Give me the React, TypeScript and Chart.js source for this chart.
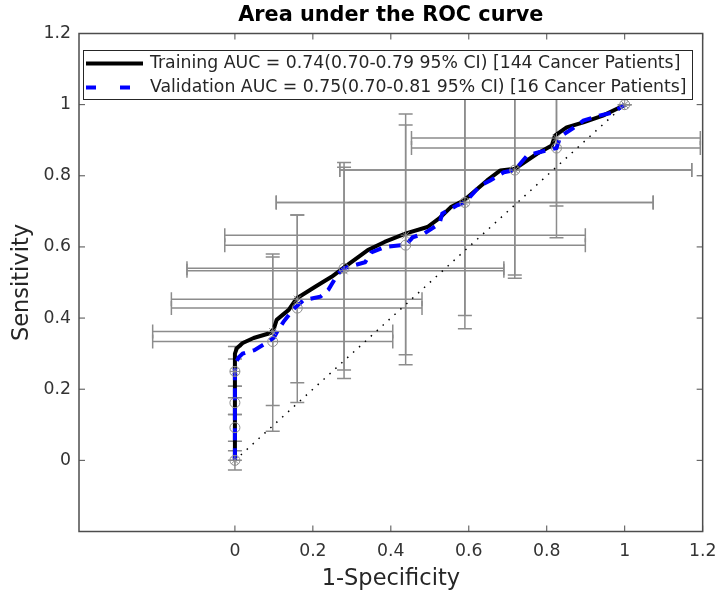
import React, { useEffect, useRef } from 'react';
import { Chart, registerables } from 'chart.js';

Chart.register(...registerables);

// ---- Axis ticks ----
const xTicks = [0, 0.2, 0.4, 0.6, 0.8, 1, 1.2];
const yTicks = [0, 0.2, 0.4, 0.6, 0.8, 1, 1.2];

// ---- ROC curves ----
const trainFPR = [0, 0, 0.005, 0.02, 0.048, 0.091, 0.1, 0.107, 0.138, 0.158, 0.206, 0.248, 0.282, 0.341, 0.384, 0.439, 0.494, 0.524, 0.554, 0.588, 0.647, 0.681, 0.719, 0.775, 0.813, 0.821, 0.851, 0.894, 0.944, 0.987, 1];
const trainTPR = [0, 0.3, 0.315, 0.33, 0.344, 0.358, 0.37, 0.395, 0.423, 0.455, 0.488, 0.516, 0.544, 0.591, 0.614, 0.638, 0.656, 0.68, 0.712, 0.731, 0.787, 0.815, 0.82, 0.862, 0.885, 0.913, 0.936, 0.95, 0.969, 0.992, 1];

const validFPR = [0, 0, 0.01, 0.02, 0.05, 0.08, 0.1, 0.11, 0.125, 0.15, 0.176, 0.219, 0.24, 0.265, 0.28, 0.295, 0.334, 0.35, 0.385, 0.425, 0.438, 0.456, 0.486, 0.525, 0.532, 0.57, 0.59, 0.63, 0.655, 0.69, 0.718, 0.75, 0.78, 0.825, 0.835, 0.869, 0.894, 0.935, 0.97, 1];
const validTPR = [0, 0.27, 0.29, 0.3, 0.31, 0.33, 0.345, 0.365, 0.39, 0.425, 0.45, 0.46, 0.48, 0.525, 0.54, 0.545, 0.557, 0.585, 0.6, 0.605, 0.605, 0.627, 0.638, 0.666, 0.694, 0.717, 0.725, 0.773, 0.787, 0.81, 0.816, 0.857, 0.866, 0.878, 0.91, 0.935, 0.955, 0.969, 0.978, 1];

// chance line
const diagX = [0, 1];
const diagY = [0, 1];

// ---- Operating points with 95% CI error bars ----
const trainPtX = [0, 0, 0.097, 0.16, 0.28, 0.438, 0.59, 0.718, 0.825, 1];
const trainPtY = [0, 0.25, 0.362, 0.453, 0.533, 0.633, 0.725, 0.816, 0.906, 1];
const trainXLo = [0, 0, -0.211, -0.163, -0.123, -0.026, 0.106, 0.269, 0.453, 1];
const trainXHi = [0, 0, 0.405, 0.48, 0.69, 0.899, 1.073, 1.172, 1.194, 1];
const trainYLo = [0, 0.208, 0.154, 0.218, 0.23, 0.297, 0.407, 0.521, 0.715, 1];
const trainYHi = [0, 0.285, 0.572, 0.69, 0.837, 0.974, 1.043, 1.11, 1.097, 1];

const validPtX = [0, 0, 0, 0, 0.097, 0.16, 0.28, 0.438, 0.59, 0.718, 0.825, 1];
const validPtY = [0, 0.092, 0.162, 0.25, 0.334, 0.428, 0.54, 0.605, 0.725, 0.816, 0.878, 1];
const validXLo = [0, 0, 0, 0, -0.211, -0.163, -0.123, -0.026, 0.106, 0.269, 0.453, 1];
const validXHi = [0, 0, 0, 0, 0.405, 0.48, 0.69, 0.899, 1.073, 1.172, 1.194, 1];
const validYLo = [-0.027, 0.054, 0.129, 0.176, 0.082, 0.163, 0.254, 0.269, 0.37, 0.512, 0.626, 1];
const validYHi = [0.027, 0.129, 0.208, 0.32, 0.58, 0.69, 0.824, 0.943, 1.08, 1.12, 1.13, 1];

const legendLabels = [
  'Training AUC = 0.74(0.70-0.79 95% CI) [144 Cancer Patients]',
  'Validation AUC = 0.75(0.70-0.81 95% CI) [16 Cancer Patients]',
];

const FONT = '"DejaVu Sans", "Liberation Sans", sans-serif';
const ERR_COLOR = '#8c8c8c';
const AXIS_COLOR = '#4d4d4d';

const toPts = (xs: number[], ys: number[]) => xs.map((x, i) => ({ x, y: ys[i] }));

const errorSets = [
  { x: trainPtX, y: trainPtY, xlo: trainXLo, xhi: trainXHi, ylo: trainYLo, yhi: trainYHi },
  { x: validPtX, y: validPtY, xlo: validXLo, xhi: validXHi, ylo: validYLo, yhi: validYHi },
];

const errorBarPlugin = {
  id: 'errorBars',
  beforeDatasetsDraw(chart: any) {
    const { ctx, chartArea, scales } = chart;
    const sx = scales.x;
    const sy = scales.y;
    const cap = 7;
    ctx.save();
    ctx.beginPath();
    ctx.rect(chartArea.left, chartArea.top, chartArea.right - chartArea.left, chartArea.bottom - chartArea.top);
    ctx.clip();
    ctx.strokeStyle = ERR_COLOR;
    ctx.lineWidth = 1.5;
    errorSets.forEach((s) => {
      s.x.forEach((xv, i) => {
        const px = sx.getPixelForValue(xv);
        const py = sy.getPixelForValue(s.y[i]);
        const pyLo = sy.getPixelForValue(s.ylo[i]);
        const pyHi = sy.getPixelForValue(s.yhi[i]);
        const pxLo = sx.getPixelForValue(s.xlo[i]);
        const pxHi = sx.getPixelForValue(s.xhi[i]);
        ctx.beginPath();
        ctx.moveTo(px, pyLo);
        ctx.lineTo(px, pyHi);
        ctx.moveTo(px - cap, pyLo);
        ctx.lineTo(px + cap, pyLo);
        ctx.moveTo(px - cap, pyHi);
        ctx.lineTo(px + cap, pyHi);
        if (Math.abs(pxHi - pxLo) > 0.5) {
          ctx.moveTo(pxLo, py);
          ctx.lineTo(pxHi, py);
          ctx.moveTo(pxLo, py - cap);
          ctx.lineTo(pxLo, py + cap);
          ctx.moveTo(pxHi, py - cap);
          ctx.lineTo(pxHi, py + cap);
        }
        ctx.stroke();
      });
    });
    ctx.restore();
  },
};

const boxPlugin = {
  id: 'matlabBox',
  afterDatasetsDraw(chart: any) {
    const { ctx, chartArea, scales } = chart;
    const { left, right, top, bottom } = chartArea;
    const tl = 6;
    ctx.save();
    ctx.strokeStyle = AXIS_COLOR;
    ctx.lineWidth = 1.5;
    ctx.strokeRect(left, top, right - left, bottom - top);
    ctx.lineWidth = 1;
    ctx.beginPath();
    scales.x.ticks.forEach((t: any) => {
      const px = scales.x.getPixelForValue(t.value);
      ctx.moveTo(px, bottom);
      ctx.lineTo(px, bottom - tl);
      ctx.moveTo(px, top);
      ctx.lineTo(px, top + tl);
    });
    scales.y.ticks.forEach((t: any) => {
      const py = scales.y.getPixelForValue(t.value);
      ctx.moveTo(left, py);
      ctx.lineTo(left + tl, py);
      ctx.moveTo(right, py);
      ctx.lineTo(right - tl, py);
    });
    ctx.stroke();
    ctx.restore();
  },
};

const legendPlugin = {
  id: 'rocLegend',
  afterDraw(chart: any) {
    const { ctx, chartArea } = chart;
    const bx = chartArea.left + 4;
    const by = chartArea.top + 16.5;
    const bw = 609;
    const bh = 49;
    ctx.save();
    ctx.fillStyle = '#ffffff';
    ctx.fillRect(bx, by, bw, bh);
    ctx.strokeStyle = '#262626';
    ctx.lineWidth = 1;
    ctx.strokeRect(bx + 0.5, by + 0.5, bw, bh);
    const rows = [by + 13.5, by + 37.5];
    ctx.lineWidth = 4;
    ctx.strokeStyle = '#000000';
    ctx.setLineDash([]);
    ctx.beginPath();
    ctx.moveTo(bx + 3, rows[0]);
    ctx.lineTo(bx + 60, rows[0]);
    ctx.stroke();
    ctx.strokeStyle = '#0000ff';
    ctx.setLineDash([10, 24]);
    ctx.beginPath();
    ctx.moveTo(bx + 3, rows[1]);
    ctx.lineTo(bx + 60, rows[1]);
    ctx.stroke();
    ctx.setLineDash([]);
    ctx.fillStyle = '#262626';
    ctx.font = `17.3px ${FONT}`;
    ctx.textBaseline = 'middle';
    ctx.textAlign = 'left';
    legendLabels.forEach((t, i) => ctx.fillText(t, bx + 67, rows[i]));
    ctx.restore();
  },
};

export default function App() {
  const ref = useRef<HTMLCanvasElement | null>(null);

  useEffect(() => {
    if (!ref.current) return;
    const chart = new Chart(ref.current, {
      type: 'scatter',
      data: {
        datasets: [
          {
            label: 'Training points',
            data: toPts(trainPtX, trainPtY),
            pointStyle: 'star',
            pointRadius: 5,
            borderColor: ERR_COLOR,
            backgroundColor: 'rgba(0,0,0,0)',
            pointBorderWidth: 1,
            showLine: false,
            order: 0,
          } as any,
          {
            label: 'Validation points',
            data: toPts(validPtX, validPtY),
            pointStyle: 'circle',
            pointRadius: 5,
            borderColor: ERR_COLOR,
            backgroundColor: 'rgba(0,0,0,0)',
            pointBorderWidth: 1,
            showLine: false,
            order: 1,
          },
          {
            label: legendLabels[1],
            data: toPts(validFPR, validTPR),
            showLine: true,
            borderColor: '#0000ff',
            borderWidth: 4,
            borderDash: [12, 8],
            pointRadius: 0,
            tension: 0,
            order: 2,
          },
          {
            label: legendLabels[0],
            data: toPts(trainFPR, trainTPR),
            showLine: true,
            borderColor: '#000000',
            borderWidth: 4,
            pointRadius: 0,
            tension: 0,
            borderJoinStyle: 'round',
            order: 3,
          },
          {
            label: 'Chance',
            data: toPts(diagX, diagY),
            showLine: true,
            borderColor: '#000000',
            borderWidth: 1.5,
            borderDash: [1.5, 6.5],
            pointRadius: 0,
            order: 4,
          },
        ],
      },
      options: {
        animation: false,
        responsive: false,
        maintainAspectRatio: false,
        layout: { padding: { left: 0, right: 18.5, top: 0, bottom: 0 } },
        plugins: {
          legend: { display: false },
          tooltip: { enabled: false },
          title: {
            display: true,
            text: 'Area under the ROC curve',
            fullSize: false,
            color: '#000000',
            font: { family: FONT, size: 20.8, weight: 'bold' },
            padding: { top: 3.3, bottom: 5.24 },
          },
        },
        scales: {
          x: {
            type: 'linear',
            min: -0.4,
            max: 1.2,
            afterBuildTicks: (s: any) => {
              s.ticks = xTicks.map((v) => ({ value: v }));
            },
            afterFit: (s: any) => {
              s.height = 67.5;
            },
            grid: { display: false, drawTicks: false },
            border: { display: false },
            ticks: {
              padding: 9.6,
              color: '#333333',
              font: { family: FONT, size: 17.3 },
              maxRotation: 0,
              autoSkip: false,
              callback: (v: any) => String(v),
            },
            title: {
              display: true,
              text: '1-Specificity',
              color: '#262626',
              font: { family: FONT, size: 22.5 },
              padding: { top: 0, bottom: 6 },
            },
          },
          y: {
            type: 'linear',
            min: -0.2,
            max: 1.2,
            afterBuildTicks: (s: any) => {
              s.ticks = yTicks.map((v) => ({ value: v }));
            },
            afterFit: (s: any) => {
              s.width = 79;
            },
            grid: { display: false, drawTicks: false },
            border: { display: false },
            ticks: {
              padding: 8,
              color: '#333333',
              font: { family: FONT, size: 17.3 },
              autoSkip: false,
              callback: (v: any) => String(v),
            },
            title: {
              display: true,
              text: 'Sensitivity',
              color: '#262626',
              font: { family: FONT, size: 22.5 },
              padding: { top: 8.5, bottom: 0 },
            },
          },
        },
      },
      plugins: [errorBarPlugin, boxPlugin, legendPlugin],
    });
    return () => chart.destroy();
  }, []);

  return (
    <div style={{ position: 'absolute', left: 0, top: 0, width: 726, height: 599, background: '#ffffff' }}>
      <canvas ref={ref} width={726} height={599} style={{ display: 'block', width: 726, height: 599 }} />
    </div>
  );
}
